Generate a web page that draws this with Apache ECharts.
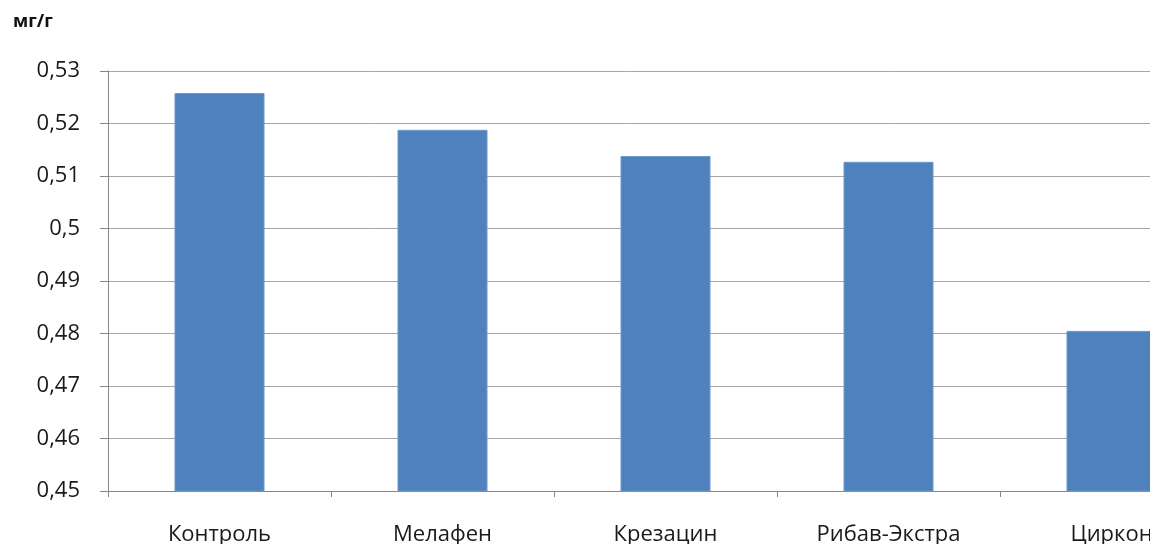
<!DOCTYPE html>
<html>
<head>
<meta charset="utf-8">
<script src="https://cdn.jsdelivr.net/npm/echarts@6/dist/echarts.min.js"></script>
<style>
  html, body { margin: 0; padding: 0; background: #fff; }
  #chart { width: 1150px; height: 544px; }
</style>
</head>
<body>
<div id="chart"></div>
<script>
const categories = ['Контроль', 'Мелафен', 'Крезацин', 'Рибав-Экстра', 'Циркон']
const values = [0.5258, 0.5188, 0.5138, 0.5127, 0.4805]
const yTicks = [0.45, 0.46, 0.47, 0.48, 0.49, 0.5, 0.51, 0.52, 0.53]

const font = '"Open Sans", "DejaVu Sans", sans-serif'

const chart = echarts.init(document.getElementById('chart'))

const option = {
  animation: false,
  title: {
    text: 'мг/г',
    left: 8,
    top: 8,
    textStyle: {
      fontFamily: font,
      fontSize: 18,
      fontWeight: 'bold',
      color: '#111'
    }
  },
  grid: {
    left: 108,
    top: 71,
    right: -73,
    height: 420,
    outerBoundsMode: 'none'
  },
  xAxis: {
    type: 'category',
    data: categories,
    axisLine: { lineStyle: { color: '#868686' } },
    axisTick: { show: true, length: 6, lineStyle: { color: '#868686' } },
    axisLabel: {
      margin: 33,
      fontFamily: font,
      fontSize: 22,
      color: '#1a1a1a'
    }
  },
  yAxis: {
    type: 'value',
    min: 0.45,
    max: 0.53,
    interval: 0.01,
    axisLine: { show: true, lineStyle: { color: '#868686' } },
    axisTick: { show: true, length: 8, lineStyle: { color: '#868686' } },
    splitLine: { lineStyle: { color: '#a6a6a6' } },
    axisLabel: {
      margin: 28,
      fontFamily: font,
      fontSize: 22,
      color: '#1a1a1a',
      formatter: v => {
        const t = yTicks.find(x => Math.abs(x - v) < 1e-9)
        return String(t !== undefined ? t : v).replace('.', ',')
      }
    }
  },
  series: [
    {
      type: 'bar',
      data: values,
      barWidth: 90,
      itemStyle: {
        color: '#4f81bd',
        borderColor: '#6d97cc',
        borderWidth: 1
      }
    }
  ]
}

chart.setOption(option)
</script>
</body>
</html>
